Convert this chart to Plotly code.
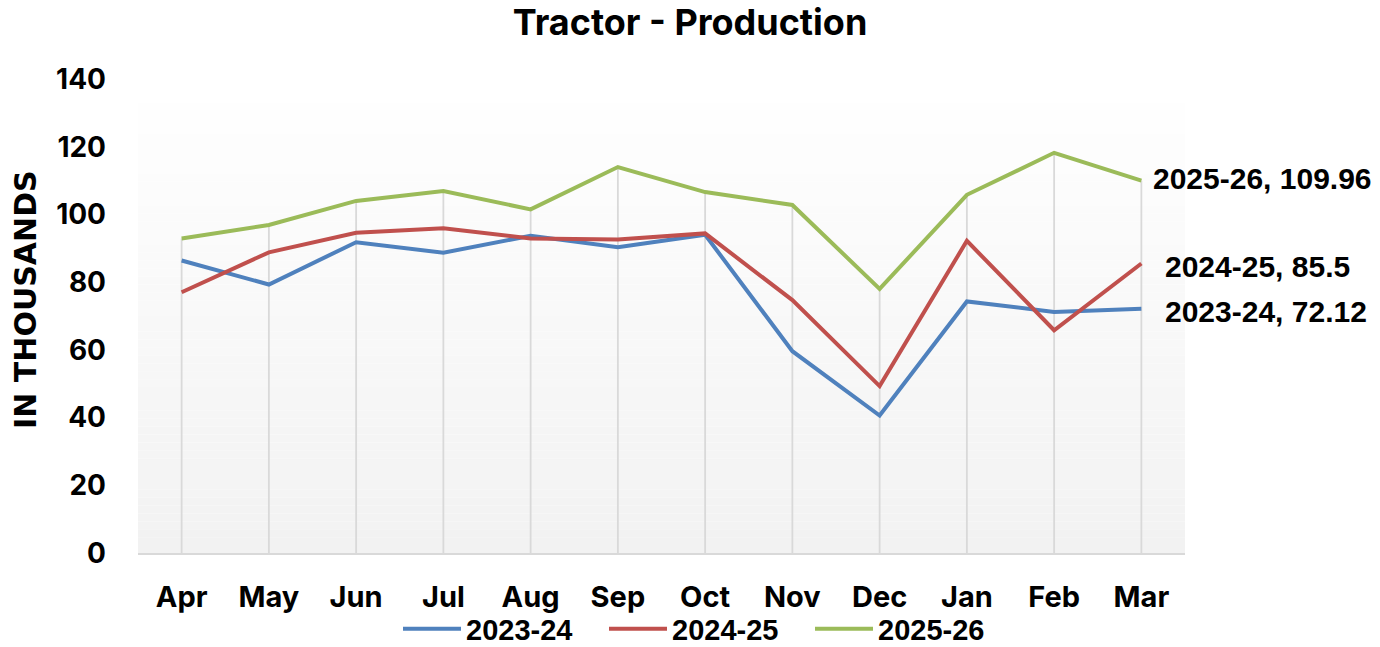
import plotly.graph_objects as go

months = ["Apr", "May", "Jun", "Jul", "Aug", "Sep", "Oct", "Nov", "Dec", "Jan", "Feb", "Mar"]
s2023_24 = [86.4, 79.3, 91.8, 88.7, 93.7, 90.3, 94.0, 59.6, 40.6, 74.3, 71.2, 72.12]
s2024_25 = [77.0, 88.8, 94.6, 95.9, 92.9, 92.6, 94.4, 74.7, 49.3, 92.2, 65.8, 85.5]
s2025_26 = [92.9, 96.9, 104.0, 106.9, 101.5, 114.0, 106.6, 102.8, 78.0, 105.8, 118.2, 109.96]

series = [
    ("2023-24", s2023_24, "#4f81bd"),
    ("2024-25", s2024_25, "#c0504d"),
    ("2025-26", s2025_26, "#9bbb59"),
]

FONT = "Inter, Liberation Sans, Arial, sans-serif"
LBL_FONT = "Liberation Sans, Arial, sans-serif"

fig = go.Figure()

# drop lines from highest value down to the axis
tops = [max(v) for v in zip(s2023_24, s2024_25, s2025_26)]
fig.add_trace(go.Scatter(
    x=months, y=tops, mode="markers",
    marker=dict(size=1, color="rgba(0,0,0,0)"),
    error_y=dict(type="data", symmetric=False, array=[0] * len(tops), arrayminus=tops,
                 color="#d9d9d9", thickness=1.8, width=0),
    showlegend=False, hoverinfo="skip",
))

for name, vals, col in series:
    fig.add_trace(go.Scatter(
        x=months, y=vals, mode="lines", name=name,
        line=dict(color=col, width=4),
    ))

# gradient plot background
n = 60
for i in range(n):
    t = i / (n - 1)
    c = int(round(242 + (255 - 242) * t))
    fig.add_shape(type="rect", xref="paper", yref="paper",
                  x0=0, x1=1, y0=i / n, y1=(i + 1) / n,
                  fillcolor=f"rgb({c},{c},{c})", line_width=0, layer="below")

label_shift = {"2025-26": (10, 2), "2024-25": (22, -3), "2023-24": (22, -3)}
for name, vals, col in series:
    dx, dy = label_shift[name]
    fig.add_annotation(
        x=months[-1], y=vals[-1], xref="x", yref="y",
        text=f"{name}, {vals[-1]:g}", showarrow=False,
        xanchor="left", yanchor="middle", xshift=dx, yshift=dy,
        font=dict(family=LBL_FONT, size=30, color="black", weight="bold"),
    )

# y-axis title
fig.add_annotation(
    x=0, y=0.534, xref="paper", yref="paper", xshift=-112,
    text="IN THOUSANDS", textangle=-90, showarrow=False,
    xanchor="center", yanchor="middle",
    font=dict(family="DejaVu Sans, Inter, sans-serif", size=30, color="black", weight="bold"),
)

fig.update_layout(
    width=1380, height=647,
    margin=dict(l=138, r=195, t=79, b=94, autoexpand=False),
    paper_bgcolor="white", plot_bgcolor="white",
    title=dict(text="Tractor - Production", x=0.5, xref="container", y=0.965, yanchor="middle",
               font=dict(family=FONT, size=36, color="black", weight="bold")),
    xaxis=dict(
        type="category", range=[-0.5, 11.5], showgrid=False, automargin=False,
        showline=True, linecolor="#d9d9d9", linewidth=1.5,
        ticks="", ticklabelstandoff=17,
        tickfont=dict(family=FONT, size=29, color="black", weight="bold"),
        zeroline=False,
    ),
    yaxis=dict(
        range=[0, 140], dtick=20, showgrid=False, zeroline=False, showline=False,
        ticks="", ticklabelstandoff=31, automargin=False,
        tickfont=dict(family=FONT, size=28, color="black", weight="bold"),
    ),
    legend=dict(orientation="h", x=398 / 1380, xref="container", xanchor="left",
                y=1 - 629 / 647, yref="container", yanchor="middle",
                font=dict(family=LBL_FONT, size=29, color="black", weight="bold"),
                itemwidth=58, entrywidth=133, entrywidthmode="pixels",
                tracegroupgap=0, bgcolor="rgba(0,0,0,0)"),
    showlegend=True,
)

fig.write_html("out.html", config={"displayModeBar": False},
               post_script="document.body.style.margin='0';")
